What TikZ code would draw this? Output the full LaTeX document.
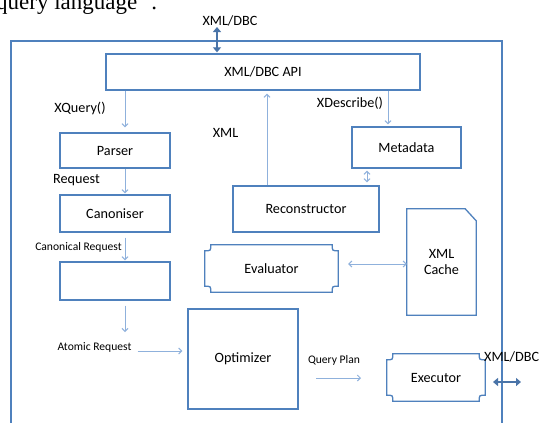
\documentclass[tikz,border=0pt]{standalone}
\usepackage{fontspec}
\setmainfont{Carlito}
\newfontfamily\serifcut{Liberation Serif}
\usetikzlibrary{arrows.meta,calc}
\definecolor{boxblue}{HTML}{4F81BD}
\definecolor{arrblue}{HTML}{8FB1DC}
\definecolor{thickblue}{HTML}{4A74A8}
\tikzset{
  box/.style={draw=boxblue,line width=1.3pt,rectangle,inner sep=0pt,font=\fontsize{14.2}{16}\selectfont},
  plain/.style={rectangle,inner sep=0pt,font=\fontsize{14.2}{16}\selectfont},
  lbl/.style={inner sep=0pt,font=\fontsize{14.2}{16}\selectfont},
  small/.style={inner sep=0pt,font=\fontsize{11.6}{13}\selectfont},
  arr/.style={draw=arrblue,line width=1pt,-{Straight Barb[length=3pt,width=6pt]}},
  darr/.style={draw=arrblue,line width=1pt,{Straight Barb[length=3pt,width=6pt]}-{Straight Barb[length=3pt,width=6pt]}},
  thick2/.style={draw=thickblue,line width=2.6pt,{Triangle[length=5pt,width=8pt]}-{Triangle[length=5pt,width=8pt]}},
}
\newcommand\plaquebox[1]{\draw[draw=boxblue,line width=1.3pt] let \p1=(#1.north west), \p2=(#1.south east) in
 (\x1+6pt,\y1) -- (\x2-6pt,\y1) .. controls (\x2-6pt,\y1-6pt) .. (\x2,\y1-6pt) -- (\x2,\y2+6pt)
 .. controls (\x2-6pt,\y2+6pt) .. (\x2-6pt,\y2) -- (\x1+6pt,\y2) .. controls (\x1+6pt,\y2+6pt) .. (\x1,\y2+6pt)
 -- (\x1,\y1-6pt) .. controls (\x1+6pt,\y1-6pt) .. (\x1+6pt,\y1) -- cycle;}
\begin{document}
\begin{tikzpicture}[x=1pt,y=-1pt]
\clip (0,0) rectangle (539,423);
\fill[white] (0,0) rectangle (539,423);
% cut-off surrounding text
\node[anchor=base west,inner sep=0pt,font=\serifcut\fontsize{23}{25}\selectfont] (toptext) at (-4,9.5) {query language\,”.};
% outer frame
\coordinate (fbl) at (11,430);
\coordinate (ftl) at (11,41);
\coordinate (ftr) at (502,41);
\coordinate (fbr) at (502,430);
\draw[boxblue,line width=1.3pt] (fbl) -- (ftl) -- (ftr) -- (fbr);
% boxes
\node[box,minimum width=314pt,minimum height=36pt] (api) at (263,72) {XML/DBC API};
\node[box,minimum width=110pt,minimum height=35pt] (parser) at (115,150.5) {Parser};
\node[box,minimum width=110pt,minimum height=37pt] (canon) at (115,213.5) {Canoniser};
\node[box,minimum width=110pt,minimum height=38pt] (third) at (115,281) {};
\node[box,minimum width=110pt,minimum height=100pt] (opt) at (243,359) {Optimizer};
\node[box,minimum width=109pt,minimum height=41pt] (meta) at (406.5,147.5) {Metadata};
\node[box,minimum width=146pt,minimum height=46pt] (recon) at (306,209) {Reconstructor};
\node[plain,minimum width=133pt,minimum height=47pt] (eval) at (271.5,268.5) {Evaluator};
\plaquebox{eval}
\node[plain,minimum width=98pt,minimum height=47pt] (exec) at (436,377.5) {Executor};
\plaquebox{exec}
\node[plain,minimum width=69pt,minimum height=106pt,align=center] (cache) at (441.5,262) {XML\\Cache};
\draw[draw=boxblue,line width=1.3pt] let \p1=(cache.north west), \p2=(cache.south east) in
  (\x1,\y1) -- (\x2-11pt,\y1) -- (\x2,\y1-12pt) -- (\x2,\y2) -- (\x1,\y2) -- cycle;
% labels
\node[lbl] (lxq) at (80,108) {XQuery()};
\node[lbl] (lreq) at (76.5,180) {Request};
\node[small] (lcan) at (78.5,247) {Canonical Request};
\node[small] (latom) at (94.5,347) {Atomic Request};
\node[small] (lqp) at (334,360) {Query Plan};
\node[lbl] (lxml) at (225.5,133) {XML};
\node[lbl] (lxd) at (350,103) {XDescribe()};
\node[lbl] (ltop) at (230,21) {XML/DBC};
\node[lbl,anchor=west] (lright) at (484,357) {XML/DBC};
% helper coordinates
\coordinate (cx) at (125,0);
\coordinate (ax) at (125,332);
\coordinate (qp1) at (316,378);
\coordinate (qp2) at (361,378);
\coordinate (xd) at (388,0);
\coordinate (xr) at (267,0);
\coordinate (mr) at (367,0);
\coordinate (t1) at (217,27);
\coordinate (r1) at (493,382);
\coordinate (r2) at (521,382);
% connectors
\draw[arr,shorten >=5pt] (api.south -| cx) -- (parser.north -| cx);
\draw[arr,shorten >=1pt] (parser.south -| cx) -- (canon.north -| cx);
\draw[arr,shorten <=5pt,shorten >=1pt] (canon.south -| cx) -- (third.north -| cx);
\draw[arr,shorten <=5pt] (third.south -| cx) -- (ax);
\draw[arr,shorten >=5pt] ([xshift=6pt]latom.east |- 0,351) -- (opt.west |- 0,351);
\draw[arr] (qp1) -- (qp2);
\draw[arr,shorten >=2pt] (api.south -| xd) -- (meta.north -| xd);
\draw[arr,shorten >=3pt] (recon.north -| xr) -- (api.south -| xr);
\draw[darr,shorten <=2pt,shorten >=3pt] (meta.south -| mr) -- (recon.north -| mr);
\draw[darr,shorten <=10pt] (eval.east |- 0,264) -- (cache.west |- 0,264);
\draw[thick2,shorten >=1pt] (t1) -- (api.north -| t1);
\draw[thick2] (r1) -- (r2);
\end{tikzpicture}
\end{document}
